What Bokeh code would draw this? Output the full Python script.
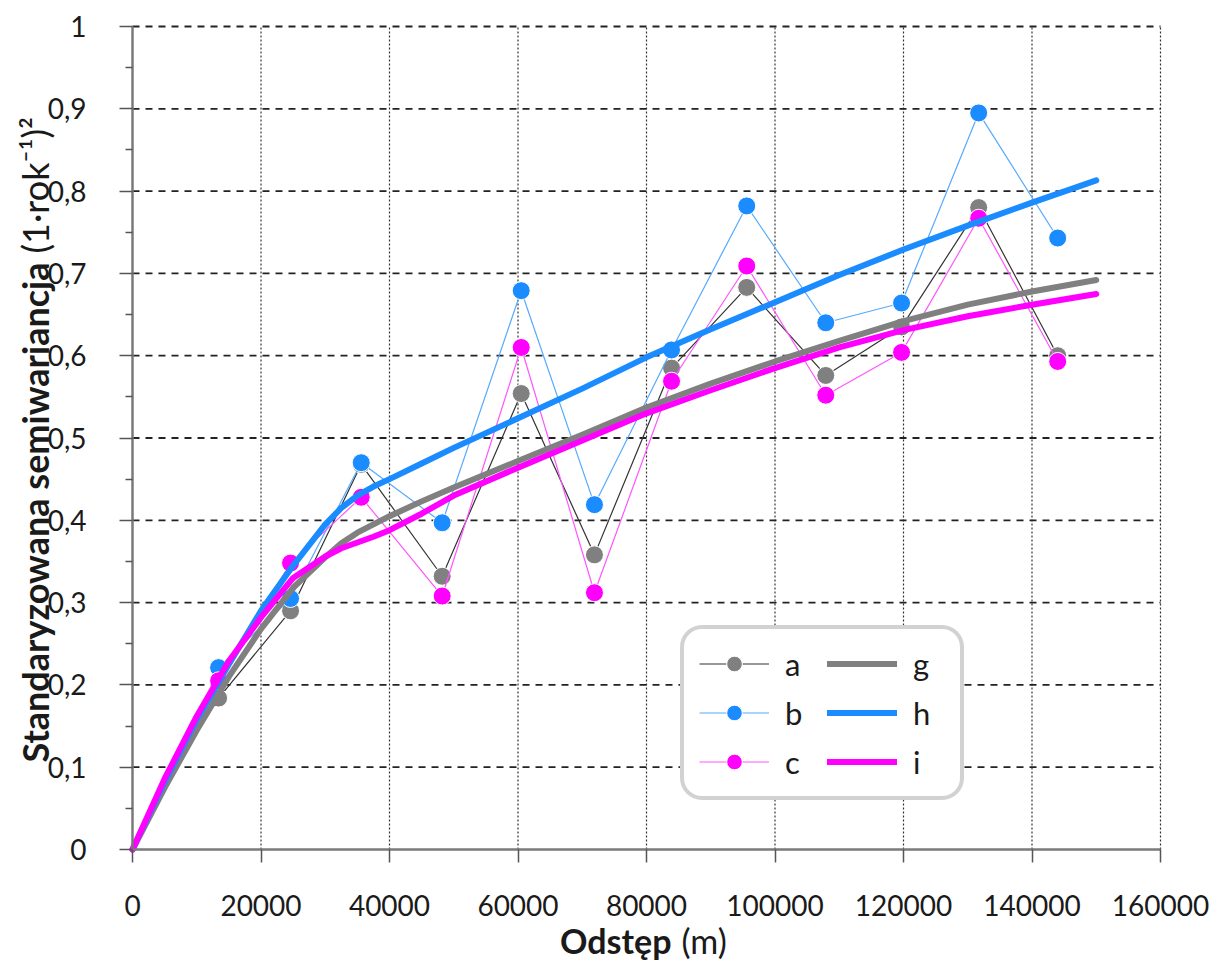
from math import pi
from bokeh.plotting import figure
from bokeh.models import (Range1d, FixedTicker, CustomJSTickFormatter, BasicTickFormatter,
                          Label, Legend, LegendItem, ColumnDataSource)
from bokeh.core.properties import value
from bokeh.embed import file_html
from bokeh.resources import INLINE

# ---------------- data ----------------
lags = [13400, 24600, 35600, 48200, 60500, 71900, 83900, 95600, 107900, 119700, 131700, 144000]
a = [0.184, 0.290, 0.468, 0.332, 0.554, 0.358, 0.585, 0.683, 0.576, 0.635, 0.780, 0.600]
b = [0.221, 0.305, 0.470, 0.397, 0.679, 0.419, 0.607, 0.782, 0.640, 0.664, 0.895, 0.743]
c = [0.205, 0.348, 0.428, 0.308, 0.610, 0.312, 0.569, 0.709, 0.552, 0.604, 0.767, 0.593]

fit_x = [0, 5000, 10000, 15000, 20000, 25000, 30000, 32500, 35000, 37500, 40000, 45000,
         50000, 60000, 70000, 80000, 90000, 100000, 110000, 120000, 130000, 140000, 150000]
g = [0, 0.075, 0.145, 0.210, 0.268, 0.318, 0.355, 0.372, 0.385, 0.395, 0.405, 0.423,
     0.440, 0.472, 0.504, 0.537, 0.566, 0.593, 0.618, 0.642, 0.662, 0.678, 0.692]
h = [0, 0.082, 0.158, 0.225, 0.290, 0.345, 0.395, 0.415, 0.430, 0.441, 0.450, 0.469,
     0.488, 0.524, 0.560, 0.598, 0.632, 0.665, 0.698, 0.729, 0.758, 0.786, 0.813]
i_ = [0, 0.086, 0.162, 0.229, 0.282, 0.330, 0.356, 0.366, 0.373, 0.380, 0.388, 0.408,
      0.430, 0.464, 0.497, 0.530, 0.558, 0.585, 0.610, 0.631, 0.648, 0.662, 0.675]

x_ticks = [0, 20000, 40000, 60000, 80000, 100000, 120000, 140000, 160000]
y_ticks = [0, 0.1, 0.2, 0.3, 0.4, 0.5, 0.6, 0.7, 0.8, 0.9, 1.0]
y_labels = ["0", "0,1", "0,2", "0,3", "0,4", "0,5", "0,6", "0,7", "0,8", "0,9", "1"]
y_minor = [0.05, 0.15, 0.25, 0.35, 0.45, 0.55, 0.65, 0.75, 0.85, 0.95]

GRAY = "#808080"
BLUE = "#1a8cff"
MAG = "#ff00ff"
FONT = "Lato"

# ---------------- layout geometry (pixels, canvas origin top-left) ----------------
W, H = 1212, 965
L, R, T, B = 132, 1160, 26, 849          # plot area inside the canvas
X0, X1 = x_ticks[0], x_ticks[-1]
Y0, Y1 = y_ticks[0], y_ticks[-1]
sx = (X1 - X0) / (R - L)
sy = (Y1 - Y0) / (B - T)


def px_x(px):
    return X0 + (px - L) * sx


def px_y(py):
    return Y0 + (B - py) * sy


p = figure(width=W, height=H, output_backend="svg", toolbar_location=None,
           x_range=Range1d(px_x(0), px_x(W)), y_range=Range1d(px_y(H), px_y(0)),
           min_border=0)
p.outline_line_color = None
p.background_fill_color = "white"
p.border_fill_color = "white"
p.grid.visible = False

# axes drawn at the data origin
for ax in (p.xaxis[0], p.yaxis[0]):
    ax.fixed_location = 0
    ax.axis_line_color = "#7a7a7a"
    ax.axis_line_width = 2.5
    ax.major_tick_line_color = "#555555"
    ax.major_tick_line_width = 1.5
    ax.major_tick_in = 0
    ax.major_tick_out = 13
    ax.major_label_text_font = FONT
    ax.major_label_text_font_size = "28px"
    ax.major_label_text_color = "#1a1a1a"

p.xaxis.bounds = (X0, X1)
p.xaxis.ticker = FixedTicker(ticks=x_ticks)
p.xaxis.formatter = BasicTickFormatter(use_scientific=False)
p.xaxis.minor_tick_line_color = None
p.xaxis.major_label_standoff = 32

p.yaxis.bounds = (Y0, Y1)
p.yaxis.ticker = FixedTicker(ticks=y_ticks, minor_ticks=y_minor)
p.yaxis.formatter = CustomJSTickFormatter(args=dict(yt=y_ticks, yl=y_labels), code="""
    for (let k = 0; k < yt.length; k++) {
        if (Math.abs(yt[k] - tick) < 1e-9) { return yl[k]; }
    }
    return '';
""")
p.yaxis.minor_tick_line_color = "#555555"
p.yaxis.minor_tick_line_width = 1.5
p.yaxis.minor_tick_in = 0
p.yaxis.minor_tick_out = 7
p.yaxis.major_label_standoff = 33

# grid lines limited to the plot area (from the tick lists)
p.segment(x0=x_ticks[1:], y0=[Y0] * (len(x_ticks) - 1), x1=x_ticks[1:], y1=[Y1] * (len(x_ticks) - 1),
          line_color="#333333", line_width=1.2, line_dash="2 2")
p.segment(x0=[X0] * (len(y_ticks) - 1), y0=y_ticks[1:], x1=[X1] * (len(y_ticks) - 1), y1=y_ticks[1:],
          line_color="#222222", line_width=1.8, line_dash="7 6")

# ---------------- series ----------------
src = ColumnDataSource(dict(x=lags, a=a, b=b, c=c))
fit = ColumnDataSource(dict(x=fit_x, g=g, h=h, i=i_))

la = p.line("x", "a", source=src, line_color="#333333", line_width=1.2)
sa = p.scatter("x", "a", source=src, size=18, fill_color=GRAY, line_color="white", line_width=1)
lb = p.line("x", "b", source=src, line_color="#55aaff", line_width=1.2)
sb = p.scatter("x", "b", source=src, size=18, fill_color=BLUE, line_color="white", line_width=1)
lc = p.line("x", "c", source=src, line_color="#ff55ff", line_width=1.2)
sc = p.scatter("x", "c", source=src, size=18, fill_color=MAG, line_color="white", line_width=1)

rg = p.line("x", "g", source=fit, line_color=GRAY, line_width=6, line_cap="round", line_join="round")
rh = p.line("x", "h", source=fit, line_color=BLUE, line_width=6, line_cap="round", line_join="round")
ri = p.line("x", "i", source=fit, line_color=MAG, line_width=6, line_cap="round", line_join="round")

legend = Legend(items=[
    LegendItem(label="a", renderers=[la, sa]),
    LegendItem(label="b", renderers=[lb, sb]),
    LegendItem(label="c", renderers=[lc, sc]),
    LegendItem(label="g", renderers=[rg]),
    LegendItem(label="h", renderers=[rh]),
    LegendItem(label="i", renderers=[ri]),
], location=(680, H - 800), nrows=3)
legend.label_text_font = FONT
legend.label_text_font_size = "31px"
legend.label_text_color = "#1a1a1a"
legend.glyph_width = 70
legend.glyph_height = 39
legend.label_height = 39
legend.label_width = 32
legend.label_standoff = 16
legend.spacing = 10
legend.padding = 15
legend.margin = 0
legend.border_line_color = "#a6a6a6"
legend.border_line_width = 4
legend.background_fill_color = "white"
legend.background_fill_alpha = 1
try:
    legend.border_radius = 22
except Exception:
    pass
p.add_layout(legend, "center")

# ---------------- axis titles ----------------
ylab_x = px_x(34)
p.add_layout(Label(x=ylab_x, y=px_y(262), text="Standaryzowana semiwariancja", angle=pi / 2,
                   text_align="right", text_baseline="middle", text_font=FONT,
                   text_font_style="bold", text_font_size="36px", text_color="#1a1a1a"))
p.add_layout(Label(x=ylab_x, y=px_y(253), text="(1·rok\u207b\u00b9)\u00b2", angle=pi / 2,
                   text_align="left", text_baseline="middle", text_font=FONT,
                   text_font_size="36px", text_color="#1a1a1a"))
xlab_y = px_y(940)
p.add_layout(Label(x=px_x(671), y=xlab_y, text="Odstęp", text_align="right",
                   text_baseline="middle", text_font=FONT, text_font_style="bold",
                   text_font_size="34px", text_color="#1a1a1a"))
p.add_layout(Label(x=px_x(681), y=xlab_y, text="(m)", text_align="left",
                   text_baseline="middle", text_font=FONT,
                   text_font_size="34px", text_color="#1a1a1a"))

open("out.html", "w").write(file_html(p, INLINE))
